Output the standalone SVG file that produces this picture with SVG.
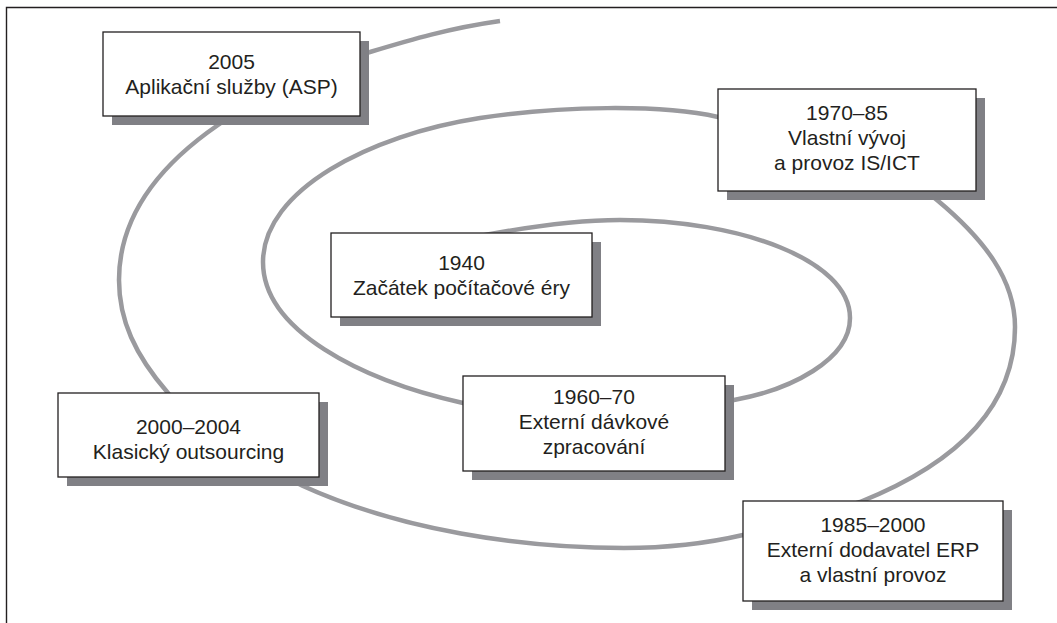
<svg xmlns="http://www.w3.org/2000/svg" width="1057" height="623" viewBox="0 0 1057 623">
<style>
.frame{fill:none;stroke:#231f20;stroke-width:1.4}
.spiral{fill:none;stroke:#9a9a9e;stroke-width:4.5;stroke-linecap:butt}
.shadow{fill:#808085}
.box{fill:#ffffff;stroke:#231f20;stroke-width:1.3}
text{font-family:"Liberation Sans",Arial,sans-serif;font-size:21px;fill:#231f20;text-anchor:middle}
</style>
<path class="frame" d="M1057,7.5 H6.5 V623"/>
<g id="connectors">
<path class="spiral" d="M470,238 C520,228 570,220 620,220 C740,220 850,260 850,318 C850,360 790,390 734,400 C650,415 540,415 463,403 C360,380 263,330 263,262 C263,190 370,135 480,118 C560,106 660,104 718,117 C800,130 890,160 937,200 C985,240 1015,280 1015,327 C1015,405 960,462 860,502 C820,515 780,528 743,535 C700,545 660,548 624,548 C520,548 400,530 303,486 C250,460 195,430 168,393 C135,355 119,320 119,280 C119,215 160,165 218,125 C260,95 320,65 370,52 C410,40 450,28 500,21"/>
</g>
<g id="n2005">
<rect class="shadow" x="112" y="41" width="257" height="84"/>
<rect class="box" x="103" y="32" width="257" height="84"/>
<text x="231.5" y="69">2005</text>
<text x="231.5" y="94">Aplikační služby (ASP)</text>
</g>
<g id="n1970">
<rect class="shadow" x="727" y="98" width="258" height="102"/>
<rect class="box" x="718" y="89" width="258" height="102"/>
<text x="847" y="120">1970–85</text>
<text x="847" y="145">Vlastní vývoj</text>
<text x="847" y="170">a provoz IS/ICT</text>
</g>
<g id="n1940">
<rect class="shadow" x="340" y="242" width="261" height="84"/>
<rect class="box" x="331" y="233" width="261" height="84"/>
<text x="461.5" y="270">1940</text>
<text x="461.5" y="295">Začátek počítačové éry</text>
</g>
<g id="n1960">
<rect class="shadow" x="472" y="385" width="262" height="95"/>
<rect class="box" x="463" y="376" width="262" height="95"/>
<text x="594" y="404">1960–70</text>
<text x="594" y="429">Externí dávkové</text>
<text x="594" y="454">zpracování</text>
</g>
<g id="n2000">
<rect class="shadow" x="67" y="402" width="261" height="84"/>
<rect class="box" x="58" y="393" width="261" height="84"/>
<text x="188.5" y="434">2000–2004</text>
<text x="188.5" y="459">Klasický outsourcing</text>
</g>
<g id="n1985">
<rect class="shadow" x="752" y="510" width="260" height="100"/>
<rect class="box" x="743" y="501" width="260" height="100"/>
<text x="873" y="532">1985–2000</text>
<text x="873" y="557">Externí dodavatel ERP</text>
<text x="873" y="582">a vlastní provoz</text>
</g>
</svg>
